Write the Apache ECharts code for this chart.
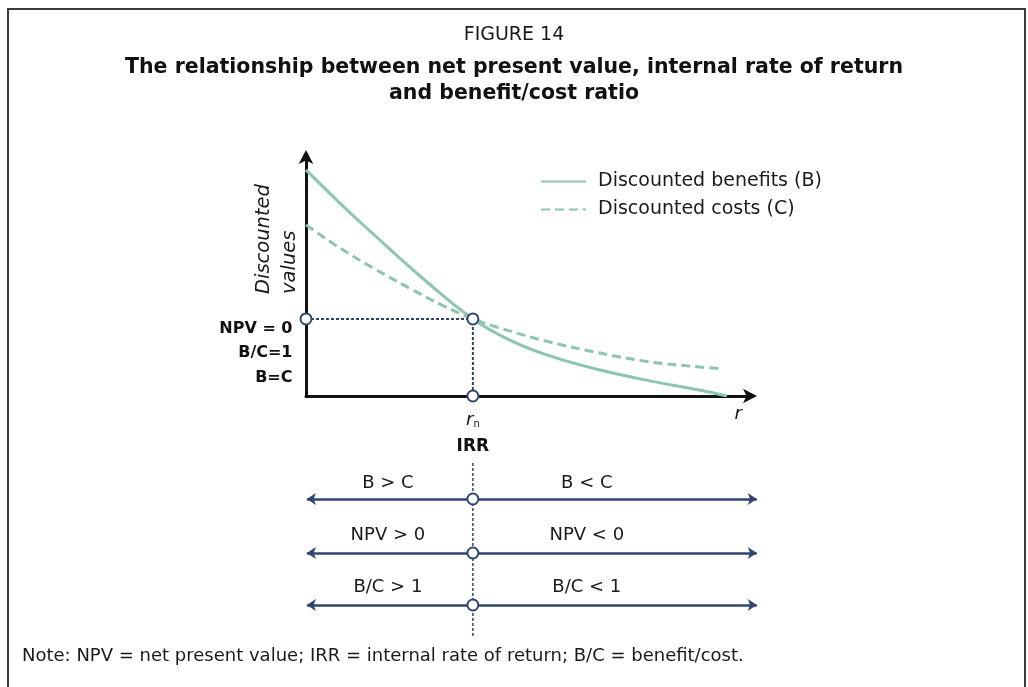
<!DOCTYPE html>
<html>
<head>
<meta charset="utf-8">
<script src="https://cdn.jsdelivr.net/npm/echarts@6/dist/echarts.min.js"></script>
<style>
html,body{margin:0;padding:0;background:#fff;}
#chart{width:1028px;height:687px;}
</style>
</head>
<body>
<div id="chart"></div>
<script>
// ---- data ----
var benefitsX = [0, 0.76, 1.51, 2.72, 3.75, 4.58, 5.48, 6.61, 7.73, 8.84, 9.46];
var benefitsY = [9.42, 8.04, 6.75, 4.75, 3.21, 2.33, 1.67, 1.08, 0.63, 0.25, 0.0];
var costsX = [0, 0.76, 1.51, 2.40, 3.01, 3.75, 4.36, 5.48, 6.61, 7.73, 8.84, 9.37];
var costsY = [7.13, 6.17, 5.33, 4.42, 3.83, 3.21, 2.83, 2.25, 1.79, 1.42, 1.21, 1.13];
var irr = 3.75;          // r0, where B = C
var crossValue = 3.21;   // discounted value at the crossing
var seriesNames = ['Discounted benefits (B)', 'Discounted costs (C)'];
var equilibriumLabels = ['NPV = 0', 'B/C=1', 'B=C'];
var leftLabels = ['B > C', 'NPV > 0', 'B/C > 1'];
var rightLabels = ['B < C', 'NPV < 0', 'B/C < 1'];
var rowLines = [7.9, 13.3, 18.5];      // rows of the lower panel
var rowLabelY = [6.3, 11.5, 16.7];
var rowLineStart = 0.02, rowLineEnd = 10.13;
var leftLabelX = 1.84, rightLabelX = 6.31;
var irrLabelY = 2.7;
var irrLineRange = [4.3, 21.6];
var rAxisLabelX = 9.71;

// ---- styles ----
var TEAL = '#8cc5b1';
var NAVY = '#2f4570';
var FONT = 'DejaVu Sans';
var INK = '#1a1a1a';

function zip(xs, ys) { return xs.map(function (x, i) { return [x, ys[i]]; }); }

var chart = echarts.init(document.getElementById('chart'));

var option = {
  backgroundColor: '#fff',
  animation: false,
  textStyle: { fontFamily: FONT, color: INK },
  title: [
    { text: 'FIGURE 14', left: 'center', top: 21,
      textStyle: { fontFamily: FONT, fontSize: 19, fontWeight: 'normal', color: INK } },
    { text: 'The relationship between net present value, internal rate of return',
      left: 'center', top: 52,
      textStyle: { fontFamily: FONT, fontSize: 20.5, fontWeight: 'bold', color: '#111' } },
    { text: 'and benefit/cost ratio',
      left: 'center', top: 78,
      textStyle: { fontFamily: FONT, fontSize: 20.5, fontWeight: 'bold', color: '#111' } },
    { text: 'Note: NPV = net present value; IRR = internal rate of return; B/C = benefit/cost.',
      left: 17, top: 642,
      textStyle: { fontFamily: FONT, fontSize: 18, fontWeight: 'normal', color: INK } }
  ],
  legend: {
    orient: 'vertical', left: 540, top: 172, padding: 0,
    itemWidth: 45, itemHeight: 16, itemGap: 9,
    data: seriesNames,
    itemStyle: { opacity: 0, borderWidth: 0 },
    textStyle: { fontFamily: FONT, fontSize: 19, lineHeight: 19, color: INK, padding: [0, 0, 0, 7] }
  },
  grid: [
    { left: 306, top: 156, width: 445, height: 240 },
    { left: 306, top: 420, width: 445, height: 220 }
  ],
  xAxis: [
    { gridIndex: 0, type: 'value', min: 0, max: 10,
      axisLine: { show: true, symbol: ['none', 'arrow'], symbolSize: [11, 14], symbolOffset: [0, 6],
                  lineStyle: { color: '#111', width: 3 } },
      axisTick: { show: false }, axisLabel: { show: false }, splitLine: { show: false } },
    { gridIndex: 1, type: 'value', min: 0, max: 10, show: false }
  ],
  yAxis: [
    { gridIndex: 0, type: 'value', min: 0, max: 10,
      axisLine: { show: true, symbol: ['none', 'arrow'], symbolSize: [11, 14], symbolOffset: [0, 6],
                  lineStyle: { color: '#111', width: 3 } },
      axisTick: { show: false }, axisLabel: { show: false }, splitLine: { show: false } },
    { gridIndex: 1, type: 'value', min: 0, max: 22, inverse: true, show: false }
  ],
  graphic: [
    { type: 'rect', shape: { x: 8, y: 9, width: 1017, height: 800 },
      style: { fill: 'none', stroke: '#3a3a3a', lineWidth: 2 }, silent: true },
    { type: 'text', x: 277, y: 294, rotation: Math.PI / 2,
      style: { text: 'Discounted\nvalues', font: 'italic 19.5px "DejaVu Sans"', fill: INK,
               align: 'left', verticalAlign: 'middle', lineHeight: 26 } }
  ],
  series: [
    { name: seriesNames[0], type: 'line', xAxisIndex: 0, yAxisIndex: 0,
      data: zip(benefitsX, benefitsY), smooth: 0.4, symbol: 'none',
      lineStyle: { color: TEAL, width: 3 }, itemStyle: { color: TEAL }, z: 3 },
    { name: seriesNames[1], type: 'line', xAxisIndex: 0, yAxisIndex: 0,
      data: zip(costsX, costsY), smooth: 0.4, symbol: 'none',
      lineStyle: { color: TEAL, width: 3, type: [9, 5] }, itemStyle: { color: TEAL }, z: 3 },
    // dotted reference lines
    { type: 'line', xAxisIndex: 0, yAxisIndex: 0, symbol: 'none', silent: true,
      data: [[0, crossValue], [irr, crossValue], [irr, 0]],
      lineStyle: { color: NAVY, width: 2, type: [3, 2] }, z: 4 },
    // equilibrium markers
    { type: 'scatter', xAxisIndex: 0, yAxisIndex: 0, symbol: 'circle', symbolSize: 11, silent: true,
      itemStyle: { color: '#fff', borderColor: NAVY, borderWidth: 2, opacity: 1 }, z: 6,
      data: [
        { value: [0, crossValue],
          label: { show: true, position: [-7, 4], align: 'right', verticalAlign: 'top',
                   formatter: equilibriumLabels.join('\n'), fontFamily: FONT, fontSize: 16,
                   fontWeight: 'bold', lineHeight: 24.5, color: '#111' } },
        { value: [irr, crossValue] },
        { value: [irr, 0],
          label: { show: true, position: 'bottom', distance: 9,
                   formatter: '{i|r}{s|n}',
                   rich: { i: { fontFamily: FONT, fontStyle: 'italic', fontSize: 18, color: '#111' },
                           s: { fontFamily: FONT, fontSize: 10, color: '#111', padding: [8, 0, 0, 0] } } } }
      ] },
    // r axis label
    { type: 'scatter', xAxisIndex: 0, yAxisIndex: 0, symbolSize: 0, silent: true,
      itemStyle: { opacity: 1 },
      data: [{ value: [rAxisLabelX, 0] }],
      label: { show: true, position: 'bottom', distance: 9, formatter: 'r',
               fontFamily: FONT, fontStyle: 'italic', fontSize: 18, color: '#111' } },
    // lower panel: vertical IRR line
    { type: 'line', xAxisIndex: 1, yAxisIndex: 1, symbol: 'none', silent: true,
      data: [[irr, irrLineRange[0]], [irr, irrLineRange[1]]],
      lineStyle: { color: NAVY, width: 1.5, type: [3, 2] }, z: 2 },
    // lower panel: number lines with arrows
    { type: 'lines', coordinateSystem: 'cartesian2d', xAxisIndex: 1, yAxisIndex: 1, silent: true,
      clip: false,
      symbol: ['arrow', 'arrow'], symbolSize: 9,
      lineStyle: { color: NAVY, width: 2.5, opacity: 1, curveness: 0 },
      data: rowLines.map(function (r) { return { coords: [[rowLineStart, r], [rowLineEnd, r]] }; }), z: 3 },
    // lower panel: IRR markers
    { type: 'scatter', xAxisIndex: 1, yAxisIndex: 1, symbol: 'circle', symbolSize: 11, silent: true,
      itemStyle: { color: '#fff', borderColor: NAVY, borderWidth: 2, opacity: 1 }, z: 6,
      data: rowLines.map(function (r) { return [irr, r]; }) },
    // lower panel: text labels
    { type: 'scatter', xAxisIndex: 1, yAxisIndex: 1, symbolSize: 0, silent: true, z: 7,
      itemStyle: { opacity: 1 },
      label: { show: true, position: 'inside', formatter: '{b}', fontFamily: FONT, fontSize: 18, color: INK, opacity: 1 },
      data: [].concat(
        leftLabels.map(function (t, i) { return { name: t, value: [leftLabelX, rowLabelY[i]] }; }),
        rightLabels.map(function (t, i) { return { name: t, value: [rightLabelX, rowLabelY[i]] }; }),
        [{ name: 'IRR', value: [irr, irrLabelY], label: { fontWeight: 'bold', fontSize: 17, color: '#111' } }]
      ) }
  ]
};

chart.setOption(option);
</script>
</body>
</html>
